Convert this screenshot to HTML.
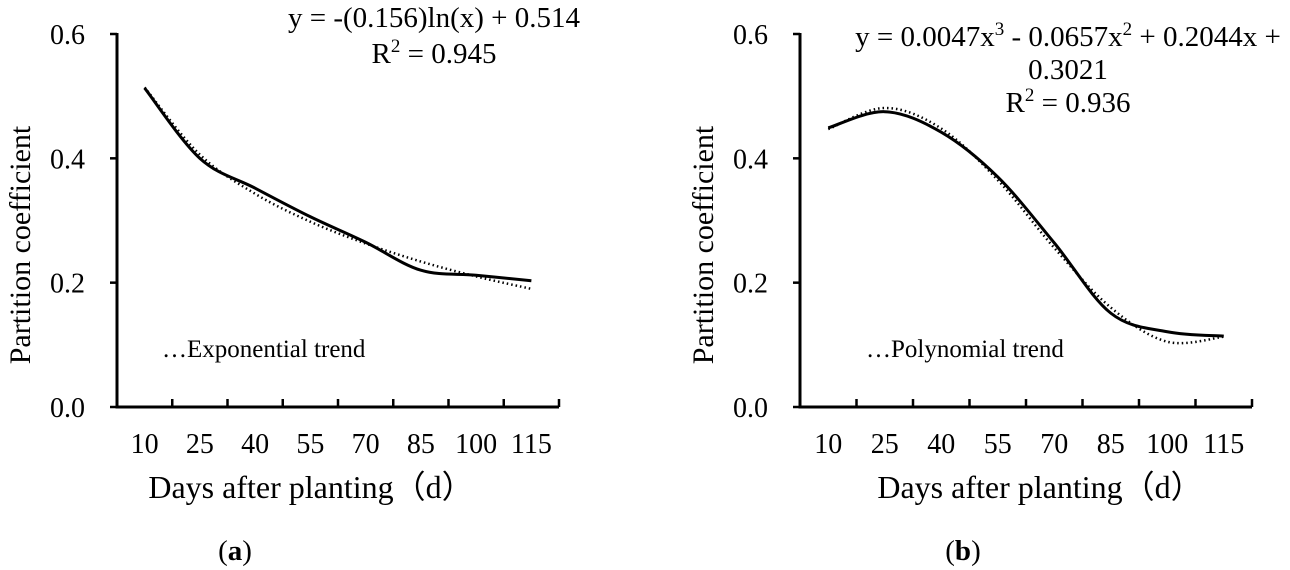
<!DOCTYPE html>
<html><head><meta charset="utf-8"><style>
html,body{margin:0;padding:0;background:#fff;}
svg{display:block;font-family:"Liberation Serif",serif;}
</style></head><body>
<svg id="c" width="1290" height="570" viewBox="0 0 1290 570">
<g id="pa"></g>
<g id="pb"></g>
</svg>
<script>
const categories=[10,25,40,55,70,85,100,115];
const yTicks=[0.0,0.2,0.4,0.6];
const yTickLabels=["0.0","0.2","0.4","0.6"];
const seriesA=[0.513,0.400,0.352,0.306,0.265,0.220,0.212,0.203];
const trendA=[0.514,0.406,0.343,0.298,0.263,0.234,0.210,0.190];
const seriesB=[0.449,0.475,0.442,0.370,0.264,0.151,0.121,0.114];
const trendB=[0.447,0.481,0.448,0.365,0.256,0.160,0.105,0.113];
const NS="http://www.w3.org/2000/svg";
function mk(p,t,a,txt){const e=document.createElementNS(NS,t);for(const k in a)e.setAttribute(k,a[k]);if(txt!=null)e.textContent=txt;p.appendChild(e);return e;}
function smooth(pts){let d="M"+pts[0][0]+","+pts[0][1];for(let i=0;i<pts.length-1;i++){const p0=pts[Math.max(i-1,0)],p1=pts[i],p2=pts[i+1],p3=pts[Math.min(i+2,pts.length-1)];const c1=[p1[0]+(p2[0]-p0[0])/6,p1[1]+(p2[1]-p0[1])/6],c2=[p2[0]-(p3[0]-p1[0])/6,p2[1]-(p3[1]-p1[1])/6];d+=" C"+c1+" "+c2+" "+p2;}return d;}
function panel(g,x0,x1,s,t,note,noteX,eqLines,eqX,eqY,eqDy,ylabX,titleX,tag,tagX){
 const yTop=34,yBot=407,ymax=0.6;
 const n=categories.length,bw=(x1-x0)/n;
 const X=i=>x0+bw*(i+0.5),Y=v=>yBot-(v/ymax)*(yBot-yTop);
 let e=mk(g,"line",{x1:x0,y1:yTop-1,x2:x0,y2:yBot+1.5,stroke:"#000","stroke-width":3});
 
 
 e=mk(g,"line",{x1:x0-1.5,y1:yBot,x2:x1,y2:yBot,stroke:"#000","stroke-width":3});
 
 
 yTicks.forEach((v,i)=>{const y=Y(v);
  let t1=mk(g,"line",{x1:x0-7,y1:y,x2:x0,y2:y,stroke:"#000","stroke-width":2.5});
  
  
  let l=mk(g,"text",{x:x0-32,y:y+10,"font-size":28,"text-anchor":"end"},yTickLabels[i]);
  
  });
 for(let i=1;i<=n;i++){let t1=mk(g,"line",{x1:x0+bw*i,y1:yBot,x2:x0+bw*i,y2:yBot-8,stroke:"#000","stroke-width":2.5});
  
  }
 categories.forEach((c,i)=>{let l=mk(g,"text",{x:X(i),y:453,"font-size":28,"text-anchor":"middle"},c);
  
  });
 let tp=mk(g,"path",{d:smooth(t.map((v,i)=>[X(i),Y(v)])),fill:"none",stroke:"#000","stroke-width":2.5,"stroke-dasharray":"1.5 3"});
 
 
 let sp=mk(g,"path",{d:smooth(s.map((v,i)=>[X(i),Y(v)])),fill:"none",stroke:"#000","stroke-width":3});
 
 
 let nt=mk(g,"text",{x:noteX,y:Y(0.0)-50,"font-size":25},note);
 
 
 eqLines.forEach((ln,i)=>{let t2=mk(g,"text",{x:eqX,y:eqY+i*eqDy,"font-size":29,"text-anchor":"middle"});
  t2.innerHTML=ln;
  
  });
 let yl=mk(g,"text",{x:0,y:0,"font-size":30,"text-anchor":"middle",transform:"translate("+ylabX+",245) rotate(-90)"},"Partition coefficient");
 
 
 let xl=mk(g,"text",{x:titleX,y:498,"font-size":32,"text-anchor":"middle"},"Days after planting（d）");
 
 
 let tg=mk(g,"text",{x:tagX,y:560,"font-size":29,"text-anchor":"middle"});
 tg.innerHTML="(<tspan font-weight='bold'>"+tag+"</tspan>)";
 
 
}
panel(document.getElementById("pa"),117,559,seriesA,trendA,"…Exponential trend",162,
 ["y = -(0.156)ln(x) + 0.514","R<tspan font-size='19' dy='-11'>2</tspan><tspan dy='11'> = 0.945</tspan>"],434,27,36,30,311,"a",235);
panel(document.getElementById("pb"),800,1252,seriesB,trendB,"…Polynomial trend",866,
 ["y = 0.0047x<tspan font-size='19' dy='-11'>3</tspan><tspan dy='11'> - 0.0657x</tspan><tspan font-size='19' dy='-11'>2</tspan><tspan dy='11'> + 0.2044x +</tspan>","0.3021","R<tspan font-size='19' dy='-11'>2</tspan><tspan dy='11'> = 0.936</tspan>"],1068,46,33,713,1040,"b",963);
</script>
</body></html>
